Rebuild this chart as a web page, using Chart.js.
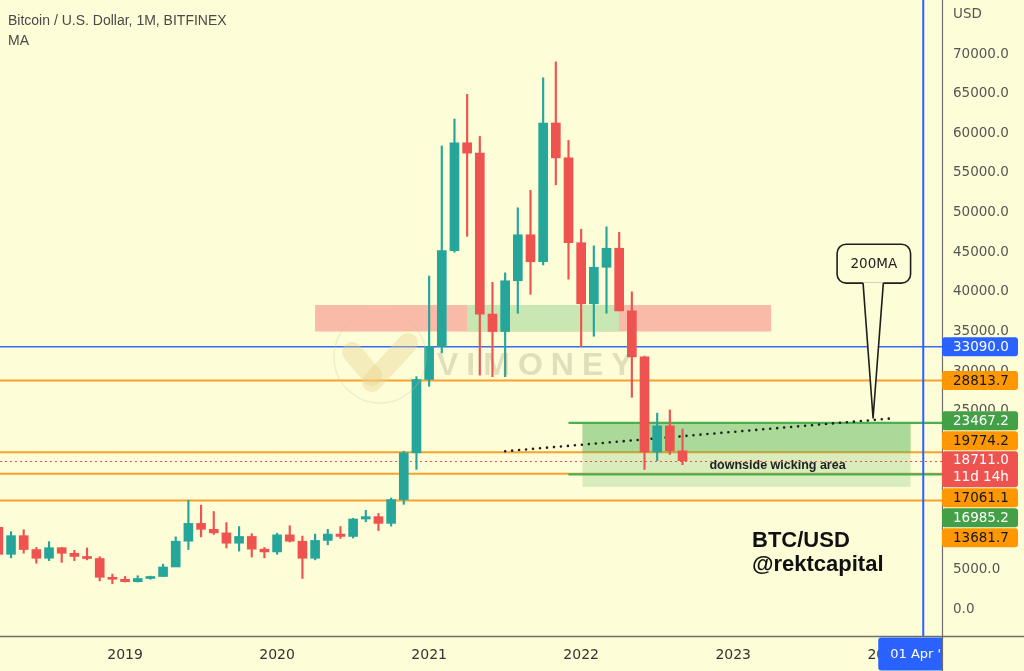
<!DOCTYPE html>
<html>
<head>
<meta charset="utf-8">
<title>Bitcoin / U.S. Dollar, 1M, BITFINEX</title>
<script src="https://cdn.jsdelivr.net/npm/chart.js@4.4.1/dist/chart.umd.min.js"></script>
<style>
html,body{margin:0;padding:0;background:#fdfdd8;overflow:hidden;}
#wrap{position:relative;width:1024px;height:671px;}
canvas{display:block;}
</style>
</head>
<body>
<div id="wrap"><canvas id="chart" width="1024" height="671"></canvas></div>
<script>
// ---------------- DATA (monthly BTC/USD candles) ----------------
const months = [
  '2018-03','2018-04','2018-05','2018-06','2018-07','2018-08','2018-09','2018-10','2018-11','2018-12',
  '2019-01','2019-02','2019-03','2019-04','2019-05','2019-06','2019-07','2019-08','2019-09','2019-10','2019-11','2019-12',
  '2020-01','2020-02','2020-03','2020-04','2020-05','2020-06','2020-07','2020-08','2020-09','2020-10','2020-11','2020-12',
  '2021-01','2021-02','2021-03','2021-04','2021-05','2021-06','2021-07','2021-08','2021-09','2021-10','2021-11','2021-12',
  '2022-01','2022-02','2022-03','2022-04','2022-05','2022-06','2022-07','2022-08','2022-09'
];
const open = [
  10300, 6900, 9250, 7500, 6400, 7730, 7030, 6630, 6370, 4000,
  3750, 3450, 3850, 4100, 5300, 8550, 10800, 10050, 9600, 8300, 9150, 7550,
  7200, 9350, 8550, 6400, 8650, 9450, 9150, 11350, 11650, 10800, 13800, 19700,
  28950, 33100, 45200, 58800, 57500, 37200, 35000, 41400, 47200, 43800, 61300, 56900,
  46200, 38500, 43100, 45500, 37600, 31800, 19800, 23100, 19950
];
const high = [
  11700, 9750, 10000, 7770, 8500, 7760, 7400, 7700, 6600, 4400,
  4100, 4200, 4150, 5650, 9100, 13700, 13100, 12300, 10900, 10400, 9500, 7750,
  9550, 10500, 9200, 9450, 10050, 10400, 11450, 12450, 12050, 14000, 19900, 29300,
  42000, 58400, 61800, 64900, 59600, 41200, 42400, 50600, 52800, 67000, 69000, 59100,
  47900, 45800, 48200, 47500, 40000, 31900, 24700, 25100, 22700
];
const low = [
  6600, 6450, 7050, 5770, 6100, 5880, 6100, 6200, 3550, 3200,
  3400, 3400, 3750, 4100, 5350, 7500, 9100, 9400, 7700, 7300, 6550, 6450,
  6900, 8450, 3850, 6200, 8100, 8900, 8950, 11000, 9900, 10450, 13200, 17600,
  28100, 32300, 45000, 47000, 29500, 29300, 29300, 37300, 39700, 43400, 53500, 41600,
  33100, 34400, 37300, 37600, 26700, 17600, 18700, 19500, 18200
];
const close = [
  6900, 9250, 7500, 6400, 7730, 7030, 6630, 6370, 4000, 3750,
  3450, 3850, 4100, 5300, 8550, 10800, 10050, 9600, 8300, 9150, 7550, 7200,
  9350, 8550, 6400, 8650, 9450, 9150, 11350, 11650, 10800, 13800, 19700, 28950,
  33100, 45200, 58800, 57500, 37200, 35000, 41400, 47200, 43800, 61300, 56900, 46200,
  38500, 43100, 45500, 37600, 31800, 19800, 23100, 19950, 18711
];
const yearTickLabels = ['2019', '2020', '2021', '2022', '2023', '2024'];
const priceTicks = [0, 5000, 10000, 15000, 20000, 25000, 30000, 35000, 40000, 45000, 50000, 55000, 60000, 65000, 70000];
const levelValues = [33090.0, 28813.7, 23467.2, 19774.2, 17061.1, 16985.2, 13681.7];
const levelKinds  = ['blue', 'orange', 'green', 'orange', 'orange', 'green', 'orange'];
const lastPrice = 18711.0;
const lastCountdown = '11d 14h';
const ma200Months = [42.0, 72.6];      // months counted from Jan 2018
const ma200Values = [19900, 24050];
const cursorMonth = '2024-04';
const cursorLabel = "01 Apr '22";

// ---------------- helpers ----------------
function monthIndex(s) { const p = s.split('-').map(Number); return (p[0] - 2018) * 12 + (p[1] - 1); }
const GREEN = '#26a69a', RED = '#ef5350', BG = '#fdfdd8';
const xIdx = months.map(monthIndex);
const candleColors = close.map((c, i) => c >= open[i] ? GREEN : RED);
const yearTickValues = yearTickLabels.map(y => monthIndex(y + '-01'));
const AXIS_FONT = '"DejaVu Sans", sans-serif';

const kindStyle = {
  blue:   { line: '#3b6af0', width: 1.5, tag: '#2962ff', text: '#ffffff', startMonth: null },
  orange: { line: '#f7a12e', width: 2,   tag: '#ff9800', text: '#131722', startMonth: null },
  green:  { line: '#4caf50', width: 2.2, tag: '#43a047', text: '#ffffff', startMonth: 47 }
};

const annot = {
  pinkZone:  { x0: 27, x1: 63, y0: 35000, y1: 38340 },
  greenZone: { x0: 39, x1: 51, y0: 35000, y1: 38340 },
  wickBox:   { x0: 48.1, x1: 74.0, top: 23467.2, mid: 19774.2, bottom: 15400 },
  wickText:  { x: 63.5, y: 18050 },
  callout:   { x0: 68.2, x1: 74.0, top: 46000, bottom: 41100, baseL: 70.25, baseR: 71.85, tipX: 71.04, tipY: 24090 }
};

function rr(ctx, x, y, w, h, r) { ctx.beginPath(); ctx.roundRect(x, y, w, h, r); }

const bgPlugin = {
  id: 'bg',
  beforeDraw(chart) {
    const ctx = chart.ctx; ctx.save(); ctx.fillStyle = BG; ctx.fillRect(0, 0, chart.width, chart.height); ctx.restore();
  }
};

const underlayPlugin = {
  id: 'underlay',
  beforeDatasetsDraw(chart) {
    const { ctx, chartArea: ca, scales } = chart;
    const X = v => scales.x.getPixelForValue(v), Y = v => scales.y.getPixelForValue(v);
    ctx.save();
    ctx.beginPath(); ctx.rect(ca.left, ca.top, ca.right - ca.left, ca.bottom - ca.top); ctx.clip();
    const pz = annot.pinkZone, gz = annot.greenZone;
    ctx.fillStyle = '#f9bba7';
    ctx.fillRect(X(pz.x0), Y(pz.y1), X(pz.x1) - X(pz.x0), Y(pz.y0) - Y(pz.y1));
    ctx.fillStyle = '#c8e7b3';
    ctx.fillRect(X(gz.x0), Y(gz.y1), X(gz.x1) - X(gz.x0), Y(gz.y0) - Y(gz.y1));
    levelValues.forEach((v, i) => {
      const st = kindStyle[levelKinds[i]];
      if (levelKinds[i] === 'green') return;
      ctx.strokeStyle = st.line; ctx.lineWidth = st.width;
      ctx.beginPath(); ctx.moveTo(ca.left, Y(v)); ctx.lineTo(ca.right, Y(v)); ctx.stroke();
    });
    const wb = annot.wickBox;
    ctx.fillStyle = 'rgba(76,175,80,0.20)';
    ctx.fillRect(X(wb.x0), Y(wb.top), X(wb.x1) - X(wb.x0), Y(wb.bottom) - Y(wb.top));
    ctx.fillStyle = 'rgba(76,175,80,0.32)';
    ctx.fillRect(X(wb.x0), Y(wb.top), X(wb.x1) - X(wb.x0), Y(wb.mid) - Y(wb.top));
    levelValues.forEach((v, i) => {
      if (levelKinds[i] !== 'green') return;
      const st = kindStyle.green;
      ctx.strokeStyle = st.line; ctx.lineWidth = st.width;
      ctx.beginPath(); ctx.moveTo(X(st.startMonth), Y(v)); ctx.lineTo(ca.right, Y(v)); ctx.stroke();
    });
    ctx.strokeStyle = RED; ctx.lineWidth = 1; ctx.setLineDash([2, 3]);
    ctx.beginPath(); ctx.moveTo(ca.left, Math.round(Y(lastPrice)) + 0.5); ctx.lineTo(ca.right, Math.round(Y(lastPrice)) + 0.5); ctx.stroke();
    ctx.setLineDash([]);
    ctx.restore();
  }
};

const overlayPlugin = {
  id: 'overlay',
  afterDraw(chart) {
    const { ctx, chartArea: ca, scales } = chart;
    const X = v => scales.x.getPixelForValue(v), Y = v => scales.y.getPixelForValue(v);
    ctx.save();

    // watermark
    ctx.save();
    ctx.strokeStyle = 'rgba(215,195,140,0.30)'; ctx.lineWidth = 1.2;
    ctx.beginPath(); ctx.arc(380, 357, 46, 0, Math.PI * 2); ctx.stroke();
    ctx.strokeStyle = 'rgba(232,208,140,0.38)'; ctx.lineCap = 'round'; ctx.lineWidth = 20;
    ctx.beginPath(); ctx.moveTo(352, 352); ctx.lineTo(372, 376); ctx.stroke();
    ctx.beginPath(); ctx.moveTo(372, 382); ctx.lineTo(408, 343); ctx.stroke();
    ctx.fillStyle = 'rgba(140,128,95,0.24)';
    ctx.font = 'bold 32px "Liberation Sans", Arial, sans-serif'; ctx.textBaseline = 'alphabetic'; ctx.textAlign = 'left';
    let wx = 437;
    for (const ch of 'VIMONEY') { ctx.fillText(ch, wx, 375); wx += ctx.measureText(ch).width + 8; }
    ctx.restore();

    // cursor vertical line
    const cx = X(monthIndex(cursorMonth));
    ctx.strokeStyle = '#2962ff'; ctx.lineWidth = 2;
    ctx.beginPath(); ctx.moveTo(cx, ca.top); ctx.lineTo(cx, ca.bottom); ctx.stroke();

    // wicking area text
    ctx.fillStyle = '#222'; ctx.font = 'bold 12.5px "Liberation Sans", Arial, sans-serif';
    ctx.textAlign = 'center'; ctx.textBaseline = 'middle';
    ctx.fillText('downside wicking area', X(annot.wickText.x), Y(annot.wickText.y));

    // callout 200MA
    const c = annot.callout;
    const bx0 = X(c.x0), bx1 = X(c.x1), by0 = Y(c.top), by1 = Y(c.bottom);
    ctx.lineWidth = 1.6; ctx.strokeStyle = '#1e1e1e'; ctx.fillStyle = BG; ctx.lineJoin = 'round';
    rr(ctx, bx0, by0, bx1 - bx0, by1 - by0, 9); ctx.fill(); ctx.stroke();
    ctx.beginPath(); ctx.moveTo(X(c.baseL), by1 - 1); ctx.lineTo(X(c.tipX), Y(c.tipY)); ctx.lineTo(X(c.baseR), by1 - 1); ctx.closePath();
    ctx.fill();
    ctx.beginPath(); ctx.moveTo(X(c.baseL), by1); ctx.lineTo(X(c.tipX), Y(c.tipY)); ctx.lineTo(X(c.baseR), by1); ctx.stroke();
    ctx.fillStyle = '#222'; ctx.font = '13.5px ' + AXIS_FONT; ctx.textAlign = 'center'; ctx.textBaseline = 'middle';
    ctx.fillText('200MA', (bx0 + bx1) / 2, (by0 + by1) / 2 + 1);

    // signature
    ctx.fillStyle = '#111'; ctx.font = 'bold 22px "Liberation Sans", Arial, sans-serif';
    ctx.textAlign = 'left'; ctx.textBaseline = 'alphabetic';
    ctx.fillText('BTC/USD', 752, 547);
    ctx.fillText('@rektcapital', 752, 571);

    // axis frame lines
    ctx.strokeStyle = '#6e6e6e'; ctx.lineWidth = 1.2;
    ctx.beginPath(); ctx.moveTo(ca.right + 0.5, 0); ctx.lineTo(ca.right + 0.5, chart.height); ctx.stroke();
    ctx.lineWidth = 1.6;
    ctx.beginPath(); ctx.moveTo(0, ca.bottom + 0.5); ctx.lineTo(chart.width, ca.bottom + 0.5); ctx.stroke();

    // price tags on the right axis
    const tags = levelValues.map((v, i) => ({ v, kind: levelKinds[i], h: 19 }));
    const lastTop = Y(lastPrice) - 9.5, lastH = 36;
    let lim = lastTop - 1;
    tags.filter(t => t.v > lastPrice).sort((a, b) => a.v - b.v).forEach(t => {
      const bottom = Math.min(Y(t.v) + t.h / 2, lim); t.top = bottom - t.h; lim = t.top - 1;
    });
    lim = lastTop + lastH + 1;
    tags.filter(t => t.v < lastPrice).sort((a, b) => b.v - a.v).forEach(t => {
      const top = Math.max(Y(t.v) - t.h / 2, lim); t.top = top; lim = top + t.h + 1;
    });
    const tx = ca.right, tw = 76;
    // blank the axis behind contiguous tag stacks so no tick label peeks through the gaps
    const boxes = tags.map(t => [t.top, t.top + t.h]).concat([[lastTop, lastTop + lastH]]).sort((a, b) => a[0] - b[0]);
    let run = null;
    const runs = [];
    boxes.forEach(b => {
      if (run && b[0] - run[1] <= 2) run[1] = Math.max(run[1], b[1]);
      else { run = [b[0], b[1]]; runs.push(run); }
    });
    ctx.fillStyle = BG;
    runs.forEach(r => ctx.fillRect(tx + 1, r[0], chart.width - tx - 1, r[1] - r[0]));

    ctx.font = '13.5px ' + AXIS_FONT; ctx.textAlign = 'left'; ctx.textBaseline = 'middle';
    tags.forEach(t => {
      const st = kindStyle[t.kind];
      ctx.fillStyle = st.tag; rr(ctx, tx, t.top, tw, t.h, 3); ctx.fill();
      ctx.fillStyle = st.text; ctx.fillText(t.v.toFixed(1), tx + 11, t.top + t.h / 2 + 0.5);
    });
    ctx.fillStyle = RED; rr(ctx, tx, lastTop, tw, lastH, 3); ctx.fill();
    ctx.fillStyle = '#ffffff';
    ctx.fillText(lastPrice.toFixed(1), tx + 11, lastTop + 9.5);
    ctx.fillText(lastCountdown, tx + 11, lastTop + 26.5);

    // currency label
    ctx.fillStyle = '#555'; ctx.font = '13.5px ' + AXIS_FONT;
    ctx.fillText('USD', tx + 11, 14);

    // cursor time label (clipped by the price axis)
    ctx.save();
    ctx.beginPath(); ctx.rect(0, ca.bottom + 1, ca.right, chart.height); ctx.clip();
    ctx.fillStyle = '#2962ff'; rr(ctx, cx - 45, ca.bottom + 1.5, 90, 33, 3); ctx.fill();
    ctx.fillStyle = '#ffffff'; ctx.font = '13px ' + AXIS_FONT; ctx.textAlign = 'left';
    ctx.fillText(cursorLabel, cx - 33, ca.bottom + 19);
    ctx.restore();

    // title / legend
    ctx.fillStyle = '#4a4a4a'; ctx.font = '14px "Liberation Sans", Arial, sans-serif';
    ctx.textAlign = 'left'; ctx.textBaseline = 'alphabetic';
    ctx.fillText('Bitcoin / U.S. Dollar, 1M, BITFINEX', 8, 25);
    ctx.fillText('MA', 8, 45);
    ctx.restore();
  }
};

new Chart(document.getElementById('chart'), {
  type: 'bar',
  data: {
    datasets: [
      {
        label: 'Body',
        data: xIdx.map((x, i) => ({ x, y: [open[i], close[i]] })),
        backgroundColor: candleColors,
        borderWidth: 0,
        barThickness: 9,
        minBarLength: 1,
        grouped: false,
        order: 0
      },
      {
        label: 'Wick',
        data: xIdx.map((x, i) => ({ x, y: [low[i], high[i]] })),
        backgroundColor: candleColors,
        borderWidth: 0,
        barThickness: 1.5,
        grouped: false,
        order: 1
      },
      {
        type: 'line',
        label: '200MA',
        data: ma200Months.map((x, i) => ({ x, y: ma200Values[i] })),
        borderColor: '#1f1f1f',
        borderWidth: 2.6,
        borderDash: [0, 7],
        borderCapStyle: 'round',
        pointRadius: 0,
        fill: false,
        order: 2
      }
    ]
  },
  options: {
    responsive: false,
    animation: false,
    events: [],
    layout: { padding: 0 },
    plugins: { legend: { display: false }, tooltip: { enabled: false }, title: { display: false } },
    scales: {
      x: {
        type: 'linear',
        offset: false,
        min: 2.13,
        max: 76.48,
        grid: { display: false, drawTicks: false },
        border: { display: false },
        afterBuildTicks(s) { s.ticks = yearTickValues.map(v => ({ value: v })); },
        afterFit(s) { s.height = 35; s.paddingLeft = 0; s.paddingRight = 0; },
        ticks: {
          autoSkip: false,
          maxRotation: 0,
          padding: 11,
          color: '#333',
          font: { family: 'DejaVu Sans', size: 14 },
          callback: (v) => yearTickLabels[yearTickValues.indexOf(v)] || ''
        }
      },
      y: {
        type: 'linear',
        position: 'right',
        min: -3405,
        max: 76811,
        grid: { display: false, drawTicks: false },
        border: { display: false },
        afterBuildTicks(s) { s.ticks = priceTicks.map(v => ({ value: v })); },
        afterFit(s) { s.width = 82; s.paddingTop = 0; s.paddingBottom = 0; },
        ticks: {
          padding: 11,
          color: '#555',
          font: { family: 'DejaVu Sans', size: 13.5 },
          callback: (v) => Number(v).toFixed(1)
        }
      }
    }
  },
  plugins: [bgPlugin, underlayPlugin, overlayPlugin]
});
</script>
</body>
</html>
